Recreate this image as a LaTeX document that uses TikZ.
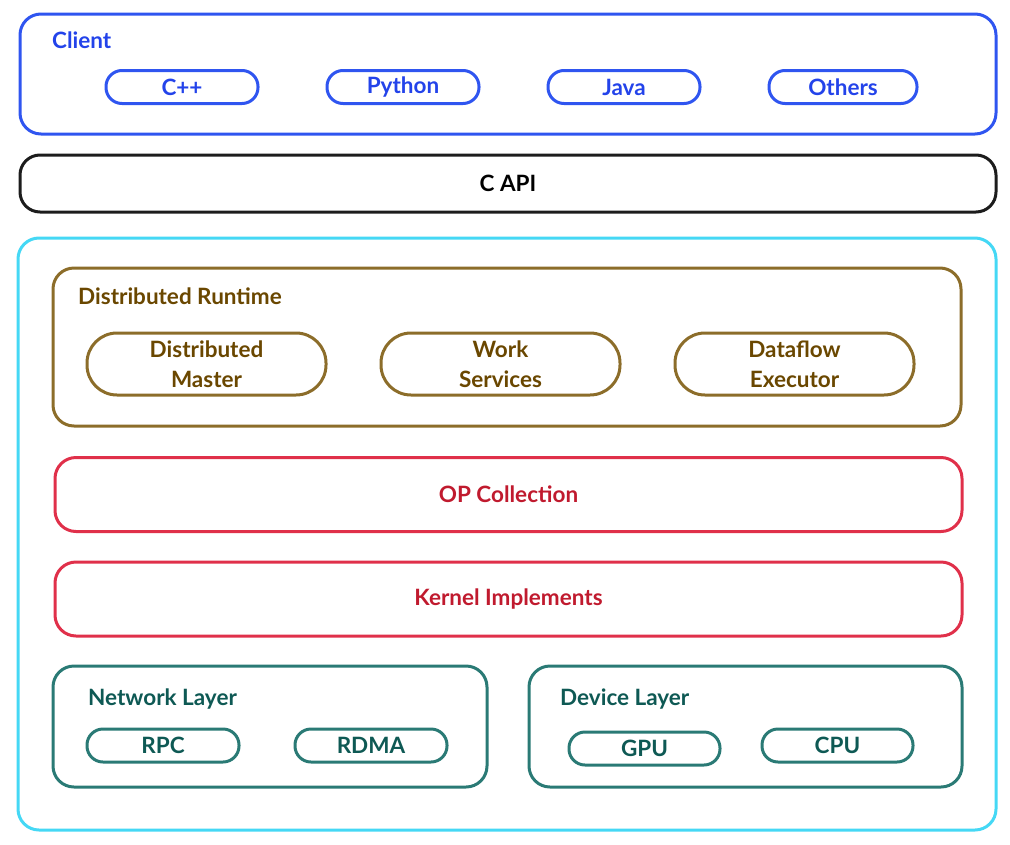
\documentclass[tikz,border=0pt]{standalone}
\usepackage{fontspec}
\setmainfont{Lato}[UprightFont=* Bold]
\definecolor{cblue}{HTML}{2F55F0}
\definecolor{tblue}{HTML}{2343EA}
\definecolor{capik}{HTML}{1C1C1C}
\definecolor{ccyan}{HTML}{45D8F5}
\definecolor{cbrown}{HTML}{8C6D2A}
\definecolor{tbrown}{HTML}{6A4700}
\definecolor{cred}{HTML}{E0304A}
\definecolor{tred}{HTML}{C01A2E}
\definecolor{cteal}{HTML}{2A7A75}
\definecolor{tteal}{HTML}{0E5954}
\tikzset{
  box/.style={draw, line width=3pt, rounded corners=21pt, inner sep=0pt, outer sep=0pt},
  pill/.style={draw, line width=3pt, inner sep=0pt, outer sep=0pt, minimum width=152pt, minimum height=33pt, rounded corners=16pt, align=center},
  bigpill/.style={draw, line width=3pt, inner sep=0pt, outer sep=0pt, minimum width=239pt, minimum height=62pt, rounded corners=30pt, align=center},
  txt/.style={font=\fontsize{22.5}{30}\selectfont, inner sep=0pt},
  lbl/.style={txt, anchor=west},
}
\begin{document}
\begin{tikzpicture}[x=1pt, y=-1pt]
\useasboundingbox (0,0) rectangle (1010,844);
% Client
\node[box, draw=cblue, minimum width=976pt, minimum height=120pt] (client) at (508,74) {};
\node[lbl, text=tblue] (clientlbl) at (52,40) {Client};
\node[pill, draw=cblue, text=tblue, txt] (cpp) at (182,87) {C++};
\node[pill, draw=cblue, text=tblue, txt] (python) at (403,87) {Python};
\node[pill, draw=cblue, text=tblue, txt] (java) at (624,87) {Java};
\node[pill, draw=cblue, text=tblue, txt, minimum width=148pt] (others) at (843,87) {Others};
% C API
\node[box, draw=capik, text=black, txt, minimum width=976pt, minimum height=57pt, rounded corners=20pt] (capi) at (508,183.5) {C API};
% Outer
\node[box, draw=ccyan, minimum width=978pt, minimum height=592pt] (core) at (507,534) {};
% Distributed runtime
\node[box, draw=cbrown, minimum width=908pt, minimum height=158pt] (dist) at (507,347) {};
\node[lbl, text=tbrown] (distlbl) at (78,296) {Distributed Runtime};
\node[bigpill, draw=cbrown, text=tbrown, txt] (master) at (206.5,364) {Distributed\\Master};
\node[bigpill, draw=cbrown, text=tbrown, txt] (work) at (500.5,364) {Work\\Services};
\node[bigpill, draw=cbrown, text=tbrown, txt] (dataflow) at (794.5,364) {Dataflow\\Executor};
% OP collection and kernel
\node[box, draw=cred, text=tred, txt, minimum width=907pt, minimum height=74pt] (op) at (508.5,494.5) {OP Collection};
\node[box, draw=cred, text=tred, txt, minimum width=907pt, minimum height=74pt] (kernel) at (508.5,599) {Kernel Implements};
% Network layer
\node[box, draw=cteal, minimum width=434pt, minimum height=121pt] (net) at (270,726.5) {};
\node[lbl, text=tteal] (netlbl) at (88,699) {Network Layer};
\node[pill, draw=cteal, text=tteal, txt] (rpc) at (163,745.5) {RPC};
\node[pill, draw=cteal, text=tteal, txt] (rdma) at (371,745.5) {RDMA};
% Device layer
\node[box, draw=cteal, minimum width=433pt, minimum height=121pt] (dev) at (745.5,726.5) {};
\node[lbl, text=tteal] (devlbl) at (560,699) {Device Layer};
\node[pill, draw=cteal, text=tteal, txt, minimum width=151pt] (gpu) at (644.5,748.5) {GPU};
\node[pill, draw=cteal, text=tteal, txt, minimum width=151pt] (cpu) at (837.5,745.5) {CPU};
\end{tikzpicture}
\end{document}
